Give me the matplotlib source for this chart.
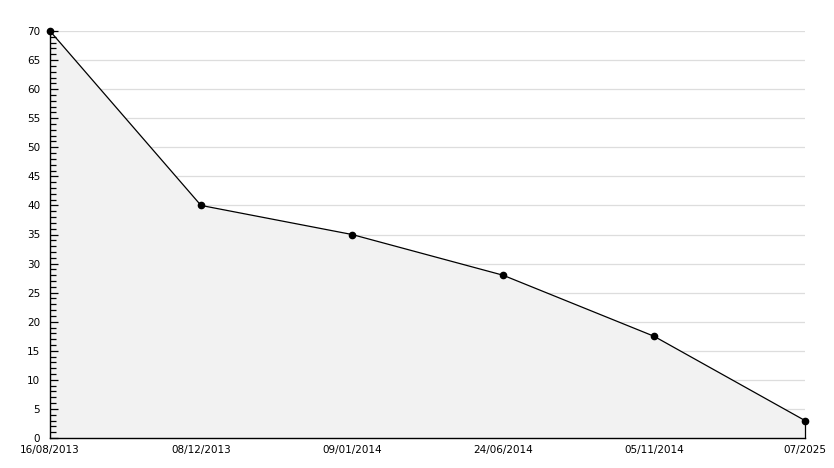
import matplotlib
matplotlib.use("Agg")
import matplotlib.pyplot as plt
from matplotlib.ticker import MultipleLocator

dates = ["16/08/2013", "08/12/2013", "09/01/2014", "24/06/2014", "05/11/2014", "07/2025"]
values = [70, 40, 35, 28, 17.5, 3]
grid_levels = list(range(5, 75, 5))

fig = plt.figure(figsize=(8.34, 4.68), dpi=100)
ax = fig.add_axes([50/834, 30/468, 755/834, 407/468])

x = list(range(len(dates)))
for g in grid_levels:
    ax.axhline(g, color="#dddddd", lw=0.9, zorder=0.1)
ax.fill_between(x, values, 0, color="#f2f2f2", zorder=0.2, lw=0)
ax.plot(x, values, color="black", lw=0.9, marker="o", ms=4.5, zorder=3, clip_on=False)
ax.plot([x[-1], x[-1]], [0, values[-1]], color="black", lw=0.9, zorder=3, clip_on=False)

ax.set_xlim(0, len(dates) - 1)
ax.set_ylim(0, 70)
ax.yaxis.set_major_locator(MultipleLocator(5))
ax.yaxis.set_minor_locator(MultipleLocator(1))
ax.set_xticks(x)
ax.set_xticklabels(dates)
ax.set_axisbelow(False)

for s in ["top", "right"]:
    ax.spines[s].set_visible(False)
for s in ["left", "bottom"]:
    ax.spines[s].set_color("black")
    ax.spines[s].set_linewidth(1.0)
    ax.spines[s].set_zorder(4)

ax.tick_params(axis="y", which="major", direction="in", length=6, width=0.9, labelsize=7.5, pad=7, colors="black")
ax.tick_params(axis="y", which="minor", direction="in", length=4, width=0.9)
ax.tick_params(axis="x", length=0, labelsize=7.5, pad=5)

fig.savefig("out.png", dpi=100, facecolor="white")
